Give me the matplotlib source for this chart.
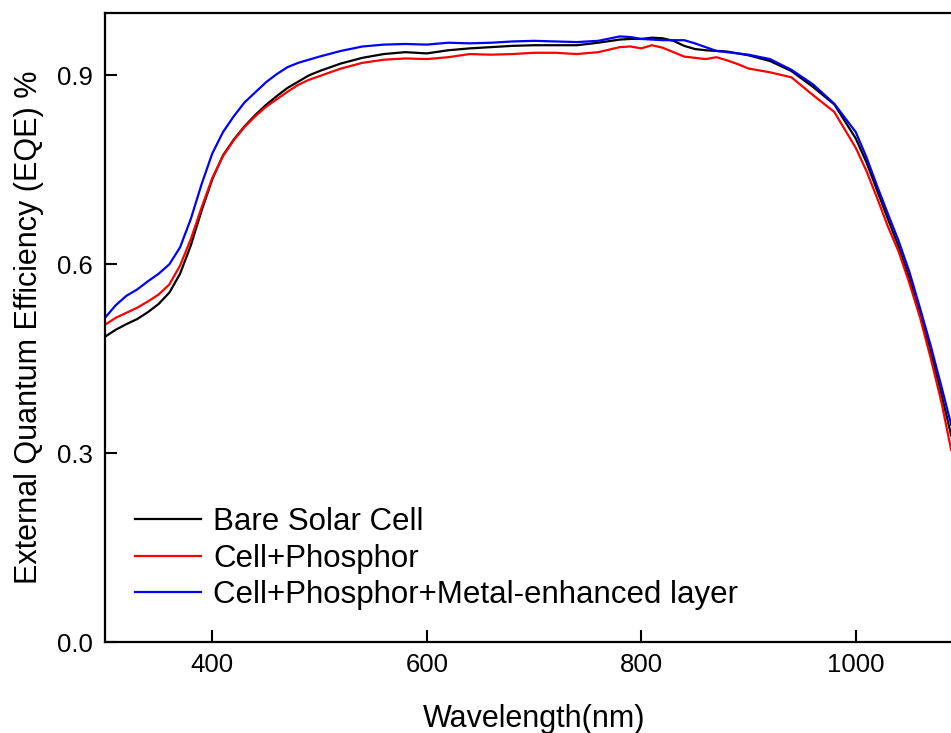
import matplotlib
matplotlib.use("Agg")
import matplotlib.pyplot as plt

plt.rcParams['font.family'] = ['Liberation Sans', 'DejaVu Sans']

wavelength = [300, 310, 320, 330, 340, 350, 360, 370, 380, 390,
              400, 410, 420, 430, 440, 450, 460, 470, 480, 490,
              500, 520, 540, 560, 580, 600, 620, 640, 660, 680,
              700, 720, 740, 760, 780, 790, 800, 810, 820, 830,
              840, 850, 860, 870, 880, 890, 900, 920, 940, 960,
              980, 1000, 1010, 1020, 1030, 1040, 1050, 1060, 1070, 1080, 1089]

bare_cell = [0.485, 0.496, 0.505, 0.513, 0.524, 0.537, 0.555, 0.585, 0.630, 0.685,
             0.735, 0.773, 0.798, 0.819, 0.837, 0.853, 0.867, 0.880, 0.890, 0.900,
             0.907, 0.919, 0.928, 0.934, 0.937, 0.935, 0.940, 0.943, 0.945, 0.947,
             0.948, 0.948, 0.948, 0.952, 0.957, 0.958, 0.958, 0.960, 0.959, 0.955,
             0.947, 0.942, 0.940, 0.939, 0.938, 0.935, 0.932, 0.923, 0.907, 0.882,
             0.854, 0.800, 0.762, 0.717, 0.672, 0.628, 0.578, 0.520, 0.460, 0.393, 0.328]

cell_phosphor = [0.504, 0.515, 0.523, 0.531, 0.541, 0.552, 0.568, 0.598, 0.640, 0.690,
                 0.737, 0.772, 0.797, 0.818, 0.835, 0.850, 0.862, 0.874, 0.885, 0.893,
                 0.899, 0.911, 0.920, 0.925, 0.927, 0.926, 0.929, 0.934, 0.933, 0.934,
                 0.936, 0.936, 0.934, 0.937, 0.945, 0.946, 0.943, 0.948, 0.944, 0.937,
                 0.930, 0.928, 0.926, 0.929, 0.924, 0.918, 0.911, 0.905, 0.897, 0.869,
                 0.842, 0.785, 0.748, 0.705, 0.660, 0.620, 0.570, 0.515, 0.450, 0.380, 0.305]

cell_phosphor_metal = [0.515, 0.535, 0.550, 0.560, 0.573, 0.585, 0.600, 0.627, 0.672, 0.727,
                       0.776, 0.810, 0.835, 0.857, 0.873, 0.889, 0.902, 0.913, 0.920, 0.925,
                       0.930, 0.939, 0.946, 0.949, 0.950, 0.949, 0.952, 0.951, 0.952, 0.954,
                       0.955, 0.954, 0.953, 0.955, 0.962, 0.961, 0.958, 0.957, 0.956, 0.956,
                       0.956, 0.951, 0.945, 0.939, 0.937, 0.935, 0.933, 0.926, 0.909, 0.886,
                       0.855, 0.810, 0.770, 0.724, 0.680, 0.637, 0.588, 0.530, 0.470, 0.405, 0.345]

labels = ["Bare Solar Cell", "Cell+Phosphor", "Cell+Phosphor+Metal-enhanced layer"]
colors = ["#000000", "#ff0000", "#0000ff"]
xticks = [400, 600, 800, 1000]
yticks = [0.0, 0.3, 0.6, 0.9]

fig = plt.figure(figsize=(9.51, 7.33), dpi=100)
ax = fig.add_axes([105/951, 1 - 642/733, 858/951, 629.5/733])

for series, lab, col in zip([bare_cell, cell_phosphor, cell_phosphor_metal], labels, colors):
    ax.plot(wavelength, series, color=col, lw=1.6, label=lab)

ax.set_xlim(300, 1100)
ax.set_ylim(0, 1.0)
ax.set_xticks(xticks)
ax.set_xticklabels([str(t) for t in xticks])
ax.set_yticks(yticks)
ax.set_yticklabels([f"{t:.1f}" for t in yticks])
ax.tick_params(direction='in', length=8.5, width=1.5, labelsize=18.5)
ax.tick_params(axis='y', pad=9)
ax.tick_params(axis='x', pad=8)
for s in ax.spines.values():
    s.set_linewidth(1.6)

ax.set_xlabel("Wavelength(nm)", fontsize=22, labelpad=19)
ax.set_ylabel("External Quantum Efficiency (EQE) %", fontsize=22, labelpad=9)

leg = ax.legend(loc='lower left', bbox_to_anchor=(0.035, 0.051), frameon=False,
                fontsize=22.5, handlelength=2.1, handletextpad=0.4,
                labelspacing=0.2, borderpad=0, borderaxespad=0)

fig.savefig("out.png", dpi=100)
